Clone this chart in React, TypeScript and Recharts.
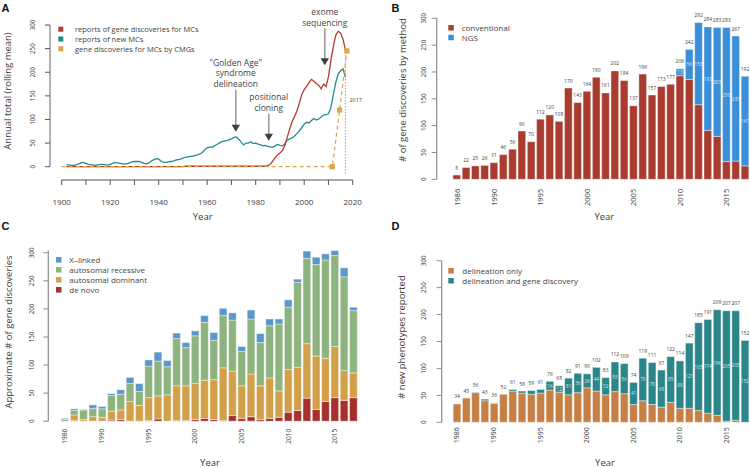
import React from 'react';
import {
  LineChart, Line, BarChart, Bar, XAxis, YAxis, ReferenceLine, ReferenceDot, LabelList,
} from 'recharts';

const FONT = '"Open Sans", "Noto Sans", sans-serif';
const INK = '#3d3d3d';
const AXIS = '#8c8c8c';

// ---------- shared year categories ----------
const barYears = [
  1986, 1987, 1988, 1989, 1990, 1991, 1992, 1993, 1994, 1995,
  1996, 1997, 1998, 1999, 2000, 2001, 2002, 2003, 2004, 2005,
  2006, 2007, 2008, 2009, 2010, 2011, 2012, 2013, 2014, 2015,
  2016, 2017,
];
const labelledYears = [1986, 1990, 1995, 2000, 2005, 2010, 2015];
const countTicks = [0, 50, 100, 150, 200, 250, 300];
const decadeTicks = [1900, 1910, 1920, 1930, 1940, 1950, 1960, 1970, 1980, 1990, 2000, 2010, 2020];

// ---------- A: annual totals (rolling mean) ----------
const newMcFirstYear = 1902;
const newMcMean = [
  4, 4, 3, 3, 4, 6, 8, 9, 7, 5,
  4, 4, 3, 4, 5, 5, 4, 4, 5, 7,
  9, 8, 7, 6, 6, 6, 8, 10, 11, 11,
  11, 9, 7, 6, 8, 12, 15, 17, 16, 12,
  9, 9, 10, 11, 12, 14, 15, 16, 18, 20,
  21, 22, 22, 24, 25, 27, 30, 36, 40, 42,
  41, 44, 47, 50, 53, 54, 55, 57, 59, 62,
  63, 58, 52, 46, 50, 50, 53, 49, 50, 48,
  46, 44, 45, 43, 42, 41, 44, 47, 45, 44,
  48, 56, 59, 61, 65, 70, 76, 83, 90, 94,
  93, 98, 102, 99, 101, 105, 109, 110, 112, 125,
  152, 178, 196, 203, 207, 190,
];
const geneYears = [1902, 1950, 1951, 1984, 1985, ...barYears];
const geneMean = [
  0, 0, 1, 1, 2,
  5, 12, 19, 25, 29, 34, 45, 62, 80, 95,
  106, 118, 134, 153, 163, 170, 178, 185, 181, 176,
  172, 165, 175, 170, 190, 225, 254, 278, 287, 283,
  270, 247,
];
const cmgYears = [1900, 2011.6, 2014.6, 2017.6];
const cmgCounts = [0, 0, 120, 245];

const notes = [
  { year: 1971.8, value: 74, shaft: 42, lines: ['"Golden Age"', 'syndrome', 'delineation'] },
  { year: 1985.4, value: 55, shaft: 27, lines: ['positional', 'cloning'] },
  { year: 2008.5, value: 215, shaft: 37, lines: ['exome', 'sequencing'] },
];

// ---------- B: gene discoveries by method ----------
const conventional = [
  8, 22, 25, 26, 31, 46, 56, 90, 70, 112,
  120, 108, 170, 143, 164, 190, 161, 202, 184, 137,
  196, 157, 173, 177, 193, 186, 139, 91, 80, 33,
  34, 25,
];
const ngs = [
  0, 0, 0, 0, 0, 0, 0, 0, 0, 0,
  0, 0, 0, 0, 0, 0, 0, 0, 0, 0,
  0, 0, 0, 0, 13, 56, 153, 193, 203, 250,
  233, 167,
];

// ---------- C: inheritance ----------
const deNovo = [
  0, 1, 0, 0, 0, 2, 3, 0, 0, 1,
  4, 0, 1, 1, 3, 5, 3, 1, 10, 5,
  8, 3, 5, 7, 16, 19, 41, 21, 35, 42,
  37, 42,
];
const autoDominant = [
  0, 10, 3, 8, 7, 16, 17, 35, 28, 41,
  41, 47, 62, 62, 64, 68, 71, 94, 79, 58,
  76, 60, 72, 47, 76, 77, 97, 95, 77, 91,
  53, 44,
];
const autoRecessive = [
  3, 8, 17, 15, 15, 28, 28, 32, 25, 56,
  62, 50, 84, 68, 85, 103, 70, 93, 91, 61,
  98, 77, 93, 119, 111, 151, 152, 163, 175, 162,
  167, 111,
];
const xLinked = [
  2, 3, 1, 6, 4, 3, 8, 11, 14, 11,
  16, 11, 10, 9, 9, 12, 14, 13, 13, 9,
  16, 16, 12, 9, 13, 6, 13, 13, 11, 9,
  16, 6,
];

// ---------- D: new phenotypes ----------
const delineationOnly = [
  34, 45, 55, 40, 35, 52, 58, 54, 52, 54,
  60, 56, 51, 55, 64, 58, 51, 57, 53, 33,
  40, 33, 28, 37, 26, 26, 22, 17, 13, 2,
  4, 0,
];
const withDiscovery = [
  0, 0, 1, 3, 1, 0, 3, 4, 7, 7,
  16, 12, 31, 36, 26, 44, 32, 55, 56, 41,
  79, 78, 69, 85, 88, 121, 163, 174, 196, 205,
  203, 152,
];

const RED = '#b53a2b';
const TEAL = '#248a8a';
const GOLD = '#dba54a';

const newMcData = newMcMean.map((v, i) => ({ year: newMcFirstYear + i, v }));
const geneData = geneYears.map((year, i) => ({ year, v: geneMean[i] }));
const cmgData = cmgYears.map((year, i) => ({ year, v: cmgCounts[i] }));

// total label goes on whichever segment is the visible top of the stack
const methodRows = barYears.map((year, i) => {
  const total = conventional[i] + ngs[i];
  return {
    year, conventional: conventional[i], ngs: ngs[i],
    flatTotal: ngs[i] === 0 ? total : null, stackTotal: ngs[i] > 0 ? total : null,
  };
});
const modeRows = barYears.map((year, i) => ({
  year, deNovo: deNovo[i], dominant: autoDominant[i], recessive: autoRecessive[i], xLinked: xLinked[i],
}));
const phenoRows = barYears.map((year, i) => {
  const total = delineationOnly[i] + withDiscovery[i];
  return {
    year, only: delineationOnly[i], discovery: withDiscovery[i],
    flatTotal: withDiscovery[i] === 0 ? total : null, stackTotal: withDiscovery[i] > 0 ? total : null,
  };
});

const YearTick = (props: any) => {
  const { x, y, payload, shift, size } = props;
  if (!labelledYears.includes(Number(payload.value))) return <g />;
  const ty = y + shift;
  return (
    <text x={x} y={ty} transform={`rotate(-90 ${x} ${ty})`} textAnchor="end"
      dominantBaseline="central" fontSize={size} fill={INK}>{payload.value}</text>
  );
};

const SideTick = (props: any) => {
  const { x, y, payload, size } = props;
  return (
    <text x={x} y={y} transform={`rotate(-90 ${x} ${y})`} textAnchor="middle"
      dominantBaseline="central" fontSize={size} fill={INK}>{payload.value}</text>
  );
};

const box = (p: any) => {
  const vb = p.viewBox || {};
  return {
    x: p.x ?? vb.x, y: p.y ?? vb.y, width: p.width ?? vb.width, height: p.height ?? vb.height,
  };
};

const TopLabel = (p: any) => {
  if (p.value === null || p.value === undefined) return <g />;
  const { x, y, width } = box(p);
  return (
    <text x={x + width / 2} y={y - 7.5} textAnchor="middle" dominantBaseline="central"
      fontSize={5} fill="#444">{p.value}</text>
  );
};

const InnerLabel = (p: any) => {
  if (!(p.value >= p.min)) return <g />;
  const { x, y, width, height } = box(p);
  return (
    <text x={x + width / 2} y={y + height / 2} textAnchor="middle" dominantBaseline="central"
      fontSize={4.6} fill="#fff" fillOpacity={0.85}>{p.value}</text>
  );
};

const CmgDot = (p: any) => {
  if (p.index === 0) return <g key={`cmg-${p.index}`} />;
  return <rect key={`cmg-${p.index}`} x={p.cx - 2.6} y={p.cy - 2.6} width={5.2} height={5.2} fill={GOLD} />;
};

const ArrowNote = ({ cx, cy, note }: any) => (
  <g>
    <line x1={cx} y1={cy - 6} x2={cx} y2={cy - note.shaft} stroke="#9b9b9b" strokeWidth={1.6} />
    <polygon points={`${cx - 4.2},${cy - 7} ${cx + 4.2},${cy - 7} ${cx},${cy}`} fill="#3e3e3e" />
    {note.lines.map((t: string, i: number) => (
      <text key={t} x={cx} y={cy - note.shaft - 6 - (note.lines.length - 1 - i) * 10.8}
        textAnchor="middle" dominantBaseline="central" fontSize={8.5} fill="#444">{t}</text>
    ))}
  </g>
);

const barStroke = { stroke: '#ffffff', strokeOpacity: 0.6, strokeWidth: 0.7 };

const PanelA = () => (
  <LineChart width={375} height={234} margin={{ top: 20, right: 22.3, bottom: 24, left: 20 }}>
    <XAxis type="number" dataKey="year" domain={[1895.19, 2020]} allowDataOverflow ticks={decadeTicks}
      tickFormatter={(v) => (v % 20 === 0 ? String(v) : '')} tickSize={5} tickMargin={14}
      axisLine={false} tickLine={{ stroke: '#555' }} height={30}
      tick={{ fontSize: 8, fill: INK }} />
    <YAxis type="number" domain={[-28.16, 310.6]} allowDataOverflow ticks={countTicks} width={30}
      tickSize={5} tickMargin={12.3} axisLine={false} tickLine={{ stroke: '#555' }}
      tick={(p: any) => <SideTick {...p} size={6.2} />} />
    <ReferenceLine segment={[{ x: 1895.19, y: 0 }, { x: 1895.19, y: 300 }]} stroke="#666" />
    <ReferenceLine segment={[{ x: 1900, y: -28.16 }, { x: 2020, y: -28.16 }]} stroke="#555" />
    <ReferenceLine segment={[{ x: 2017, y: -14 }, { x: 2017, y: 246 }]} stroke="#777" strokeDasharray="1 2" />
    <ReferenceDot x={2017} y={141} r={1} shape={(p: any) => (
      <text x={p.cx + 4} y={p.cy} dominantBaseline="central" fontSize={5.5} fill="#444">2017</text>
    )} />
    <Line data={newMcData} dataKey="v" stroke={TEAL} strokeWidth={1.3} dot={false} isAnimationActive={false} />
    <Line data={geneData} dataKey="v" stroke={RED} strokeWidth={1.3} dot={false} isAnimationActive={false} />
    <Line data={cmgData} dataKey="v" stroke={GOLD} strokeWidth={1.2} strokeDasharray="4 3" dot={CmgDot} isAnimationActive={false} />
    {notes.map((n) => (
      <ReferenceDot key={n.lines[0]} x={n.year} y={n.value} r={1}
        shape={(p: any) => <ArrowNote cx={p.cx} cy={p.cy} note={n} />} />
    ))}
  </LineChart>
);

const PanelB = () => (
  <BarChart width={375} height={234} data={methodRows} barSize={7.7}
    margin={{ top: 18.3, right: 0.55, bottom: 24.7, left: 21.7 }}>
    <XAxis dataKey="year" interval={0} axisLine={false} tickLine={false} tickSize={0} tickMargin={0}
      height={30} padding={{ left: 15.2, right: 0 }} tick={(p: any) => <YearTick {...p} shift={9.5} size={7.5} />} />
    <YAxis domain={[0, 300]} ticks={countTicks} width={40} tickSize={5} tickMargin={8.4}
      axisLine={{ stroke: AXIS, strokeWidth: 1.2 }} tickLine={{ stroke: AXIS }}
      tick={(p: any) => <SideTick {...p} size={6.2} />} />
    <Bar dataKey="conventional" stackId="m" fill="#a93c2e" {...barStroke} isAnimationActive={false}>
      <LabelList dataKey="flatTotal" content={TopLabel} />
    </Bar>
    <Bar dataKey="ngs" stackId="m" fill="#3a8fd8" {...barStroke} isAnimationActive={false}>
      <LabelList dataKey="ngs" content={(p: any) => <InnerLabel {...p} min={1} />} />
      <LabelList dataKey="stackTotal" content={TopLabel} />
    </Bar>
  </BarChart>
);

const PanelC = () => (
  <BarChart width={375} height={234} data={modeRows} barSize={7.7}
    margin={{ top: 16.5, right: 17.15, bottom: 16.8, left: 18.3 }}>
    <XAxis dataKey="year" interval={0} axisLine={false} tickLine={false} tickSize={0} tickMargin={0}
      height={30} padding={{ left: 11.75, right: 0 }} tick={(p: any) => <YearTick {...p} shift={7.5} size={6.6} />} />
    <YAxis domain={[0, 300]} ticks={countTicks} width={30} tickSize={5} tickMargin={11.6}
      axisLine={{ stroke: AXIS, strokeWidth: 1.2 }} tickLine={{ stroke: AXIS }}
      tick={(p: any) => <SideTick {...p} size={6.2} />} />
    <Bar dataKey="deNovo" stackId="i" fill="#a6302c" {...barStroke} isAnimationActive={false} />
    <Bar dataKey="dominant" stackId="i" fill="#d3a04a" {...barStroke} isAnimationActive={false} />
    <Bar dataKey="recessive" stackId="i" fill="#8db47e" {...barStroke} isAnimationActive={false} />
    <Bar dataKey="xLinked" stackId="i" fill="#5b97c9" {...barStroke} isAnimationActive={false} />
  </BarChart>
);

const PanelD = () => (
  <BarChart width={375} height={234} data={phenoRows} barSize={7.7}
    margin={{ top: 26.7, right: 0.55, bottom: 15.7, left: 26.7 }}>
    <XAxis dataKey="year" interval={0} axisLine={false} tickLine={false} tickSize={0} tickMargin={0}
      height={30} padding={{ left: 10.45, right: 0 }} tick={(p: any) => <YearTick {...p} shift={5} size={7} />} />
    <YAxis domain={[0, 300]} ticks={countTicks} width={40} tickSize={5} tickMargin={13.4}
      axisLine={{ stroke: AXIS, strokeWidth: 1.2 }} tickLine={{ stroke: AXIS }}
      tick={(p: any) => <SideTick {...p} size={6.2} />} />
    <Bar dataKey="only" stackId="p" fill="#c67f44" {...barStroke} isAnimationActive={false}>
      <LabelList dataKey="flatTotal" content={TopLabel} />
    </Bar>
    <Bar dataKey="discovery" stackId="p" fill="#2a8688" {...barStroke} isAnimationActive={false}>
      <LabelList dataKey="discovery" content={(p: any) => <InnerLabel {...p} min={12} />} />
      <LabelList dataKey="stackTotal" content={TopLabel} />
    </Bar>
  </BarChart>
);

const legends = [
  { x: 58.3, textX: 75, rows: [29.2, 39, 48.8], size: 5, font: 7.5,
    items: [['reports of gene discoveries for MCs', RED], ['reports of new MCs', TEAL], ['gene discoveries for MCs by CMGs', GOLD]] },
  { x: 448.3, textX: 461.7, rows: [27.8, 37.5], size: 5.5, font: 8,
    items: [['conventional', '#a93c2e'], ['NGS', '#3a8fd8']] },
  { x: 56, textX: 69.3, rows: [259.8, 269.8, 279.8, 289.8], size: 5.5, font: 8,
    items: [['X\u2013linked', '#5b97c9'], ['autosomal recessive', '#8db47e'], ['autosomal dominant', '#d3a04a'], ['de novo', '#a6302c']] },
  { x: 448.3, textX: 462.3, rows: [270.8, 280.8], size: 5.5, font: 8,
    items: [['delineation only', '#c67f44'], ['delineation and gene discovery', '#2a8688']] },
];

const yTitles = [
  { x: 7.7, y: 91, text: 'Annual total (rolling mean)' },
  { x: 402.5, y: 90, text: '# of gene discoveries by method' },
  { x: 8.3, y: 332, text: 'Approximate # of gene discoveries' },
  { x: 401.7, y: 337, text: '# new phenotypes reported' },
];
const xTitles = [
  { x: 202.7, y: 219.5 }, { x: 604.3, y: 219.5 }, { x: 210, y: 465.5 }, { x: 605, y: 465.5 },
];
const letters = [
  { x: 1.5, y: 11.7, t: 'A' }, { x: 391.5, y: 11.7, t: 'B' }, { x: 1.5, y: 230, t: 'C' }, { x: 391.5, y: 230, t: 'D' },
];

const Overlay = () => (
  <svg width={750} height={468} style={{ position: 'absolute', left: 0, top: 0, pointerEvents: 'none' }}>
    {letters.map((l) => (
      <text key={l.t} x={l.x} y={l.y} fontFamily='"Liberation Sans", Arial, sans-serif' fontWeight="bold"
        fontSize={11} fill="#111">{l.t}</text>
    ))}
    {yTitles.map((t) => (
      <text key={t.text} x={t.x} y={t.y} transform={`rotate(-90 ${t.x} ${t.y})`} textAnchor="middle"
        dominantBaseline="central" fontSize={9.5} fill={INK}>{t.text}</text>
    ))}
    {xTitles.map((t, i) => (
      <text key={i} x={t.x} y={t.y} textAnchor="middle" fontSize={9.5} fill={INK}>Year</text>
    ))}
    {legends.map((lg, k) => (
      <g key={k}>
        {lg.items.map(([label, color], i) => (
          <g key={label}>
            <rect x={lg.x} y={lg.rows[i] - lg.size / 2} width={lg.size} height={lg.size} fill={color} />
            <text x={lg.textX} y={lg.rows[i]} dominantBaseline="central" fontSize={lg.font} fill="#444">{label}</text>
          </g>
        ))}
      </g>
    ))}
  </svg>
);

export default function App() {
  return (
    <div style={{ position: 'absolute', left: 0, top: 0, width: 750, height: 468, background: '#fff', fontFamily: FONT }}>
      <div style={{ position: 'absolute', left: 0, top: 0 }}><PanelA /></div>
      <div style={{ position: 'absolute', left: 375, top: 0 }}><PanelB /></div>
      <div style={{ position: 'absolute', left: 0, top: 234 }}><PanelC /></div>
      <div style={{ position: 'absolute', left: 375, top: 234 }}><PanelD /></div>
      <Overlay />
    </div>
  );
}
